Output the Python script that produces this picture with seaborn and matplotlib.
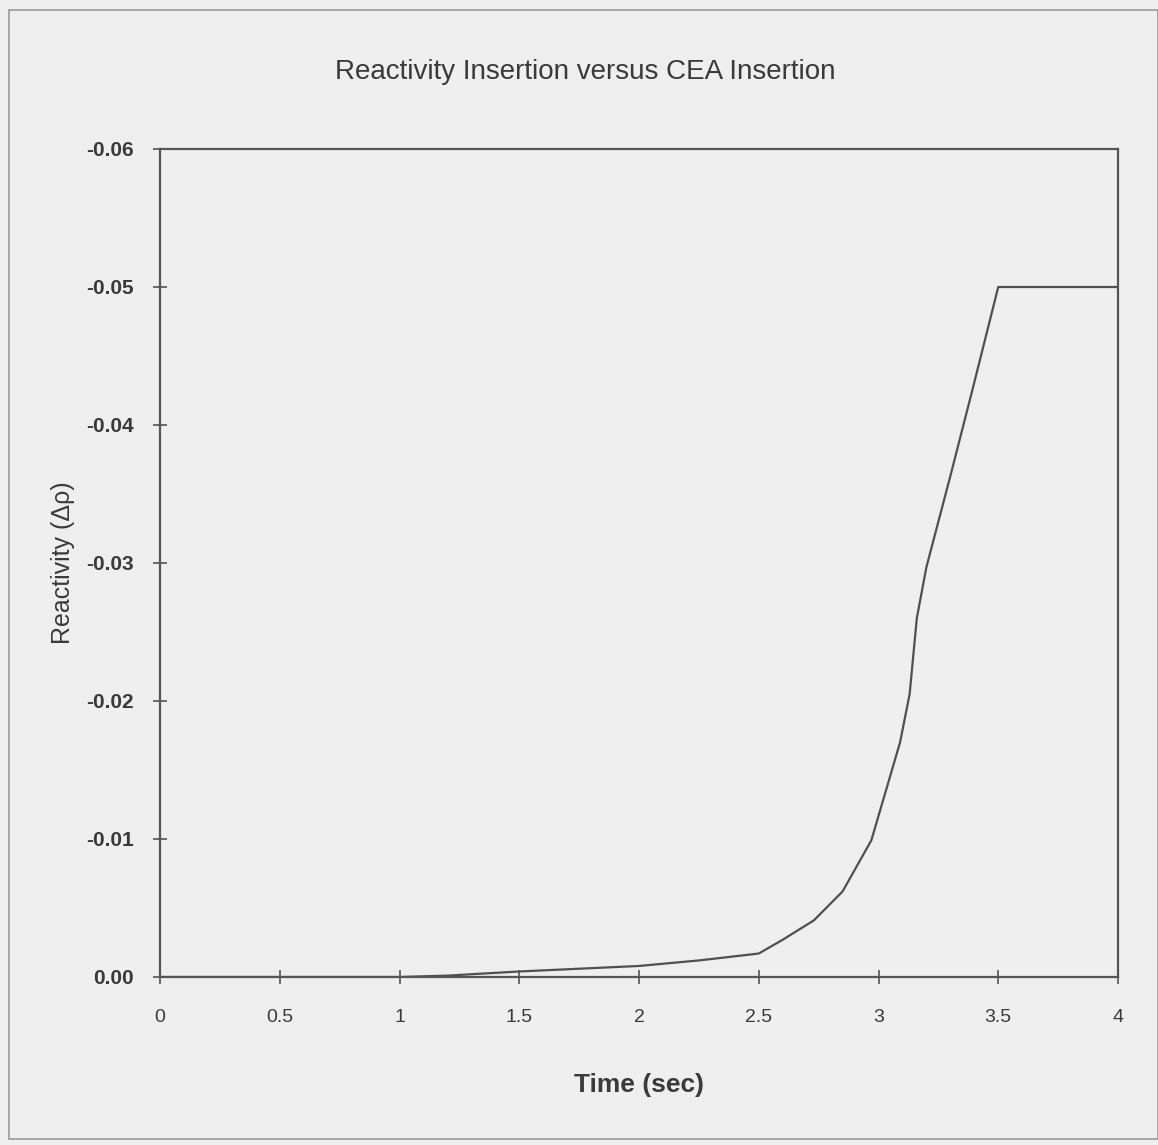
import matplotlib
matplotlib.use("Agg")
import matplotlib.pyplot as plt
import seaborn as sns
import pandas as pd
from matplotlib.patches import Rectangle

# Reactivity inserted by the control element assemblies during the drop
time_sec = [0.0, 1.0, 1.2, 1.5, 1.75, 2.0, 2.25, 2.5, 2.6, 2.73, 2.85, 2.97,
            3.09, 3.13, 3.16, 3.2, 3.3, 3.39, 3.5, 4.0]
reactivity = [0.0, 0.0, -0.0001, -0.0004, -0.0006, -0.0008, -0.0012, -0.0017,
              -0.0027, -0.0041, -0.0062, -0.0099, -0.0170, -0.0205, -0.0260,
              -0.0297, -0.0363, -0.0424, -0.0500, -0.0500]

x_ticks = [0, 0.5, 1, 1.5, 2, 2.5, 3, 3.5, 4]
x_tick_labels = ["0", "0.5", "1", "1.5", "2", "2.5", "3", "3.5", "4"]
y_ticks = [0.0, -0.01, -0.02, -0.03, -0.04, -0.05, -0.06]
y_tick_labels = ["0.00", "-0.01", "-0.02", "-0.03", "-0.04", "-0.05", "-0.06"]

df = pd.DataFrame({"Time (sec)": time_sec, "Reactivity": reactivity})

sns.set_theme(style="white")
plt.rcParams["font.family"] = ["Liberation Sans", "DejaVu Sans"]

bg = "#efefef"
ink = "#3a3a3a"
W, H = 1158, 1145

fig = plt.figure(figsize=(W / 100, H / 100), dpi=100, facecolor=bg)
ax = fig.add_axes([160 / W, 1 - 977 / H, (1118 - 160) / W, (977 - 149) / H])
ax.set_facecolor(bg)

sns.lineplot(data=df, x="Time (sec)", y="Reactivity", ax=ax,
             color="#505050", linewidth=1.6, estimator=None, sort=False)

ax.set_xlim(0, 4)
ax.set_ylim(0.0, -0.06)  # inverted: larger negative insertion plotted upward
ax.set_xticks(x_ticks)
ax.set_xticklabels(x_tick_labels)
ax.set_yticks(y_ticks)
ax.set_yticklabels(y_tick_labels)

for side in ["left", "right", "top", "bottom"]:
    ax.spines[side].set_visible(True)
    ax.spines[side].set_color("#555555")
    ax.spines[side].set_linewidth(1.6)

ax.tick_params(axis="both", direction="inout", length=10, width=1.2, color="#555555",
               labelcolor=ink, bottom=True, left=True)
ax.tick_params(axis="y", labelsize=15, pad=14)
ax.tick_params(axis="x", labelsize=14, pad=18)
for lbl in ax.get_yticklabels():
    lbl.set_fontweight("bold")

ax.set_xlabel("Time (sec)", fontsize=19, fontweight="bold", color=ink, labelpad=34)
ax.set_ylabel("Reactivity (\u0394\u03c1)", fontsize=18, color=ink, labelpad=8)

fig.text(585 / W, 1 - 72 / H, "Reactivity Insertion versus CEA Insertion",
         fontsize=20, color=ink, ha="center", va="center")

# thin frame around the whole chart area
fig.patches.append(Rectangle((9 / W, 6 / H), 1 - 9 / W, 1 - 16 / H,
                             transform=fig.transFigure, fill=False,
                             edgecolor="#9a9a9a", linewidth=1.2))

fig.savefig("out.png", dpi=100, facecolor=bg)
